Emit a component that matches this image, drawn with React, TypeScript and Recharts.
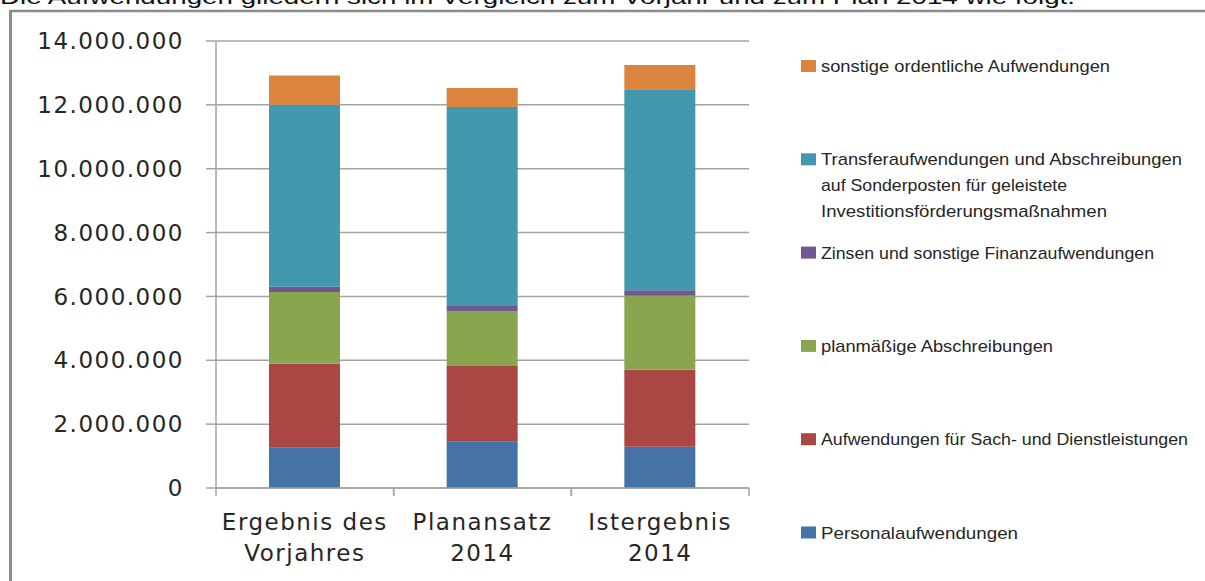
import React from "react";
import { BarChart, Bar, XAxis, YAxis, CartesianGrid, Legend } from "recharts";

// categories (line break marks the two-line axis label)
const categories = ["Ergebnis des\nVorjahres", "Planansatz\n2014", "Istergebnis\n2014"];

// series values in EUR, bottom to top
const personalaufwendungen = [1260000, 1450000, 1290000];
const sachUndDienst = [2640000, 2370000, 2410000];
const planAbschreibungen = [2240000, 1720000, 2320000];
const zinsen = [160000, 160000, 170000];
const transfer = [5700000, 6230000, 6300000];
const sonstige = [920000, 600000, 760000];

const yTicks = [0, 2000000, 4000000, 6000000, 8000000, 10000000, 12000000, 14000000];

const series = [
  { key: "personal", values: personalaufwendungen, color: "#4572A7", label: ["Personalaufwendungen"] },
  { key: "sach", values: sachUndDienst, color: "#AA4643", label: ["Aufwendungen für Sach- und Dienstleistungen"] },
  { key: "abschr", values: planAbschreibungen, color: "#89A54E", label: ["planmäßige Abschreibungen"] },
  { key: "zinsen", values: zinsen, color: "#71588F", label: ["Zinsen und sonstige Finanzaufwendungen"] },
  {
    key: "transfer",
    values: transfer,
    color: "#4198AF",
    label: [
      "Transferaufwendungen und Abschreibungen",
      "auf Sonderposten für geleistete",
      "Investitionsförderungsmaßnahmen",
    ],
  },
  { key: "sonstige", values: sonstige, color: "#DB843D", label: ["sonstige ordentliche Aufwendungen"] },
];

const data = categories.map((name, i) => {
  const row: Record<string, any> = { name };
  series.forEach((s) => {
    row[s.key] = s.values[i];
  });
  return row;
});

// rendered widths of the condensed legend lines
const legendLineWidths: Record<string, number> = {
  "sonstige ordentliche Aufwendungen": 289,
  "Transferaufwendungen und Abschreibungen": 361,
  "auf Sonderposten für geleistete": 246,
  "Investitionsförderungsmaßnahmen": 286,
  "Zinsen und sonstige Finanzaufwendungen": 333,
  "planmäßige Abschreibungen": 232,
  "Aufwendungen für Sach- und Dienstleistungen": 367,
  "Personalaufwendungen": 197,
};

const formatDE = (v: number) => String(v).replace(/\B(?=(\d{3})+(?!\d))/g, ".");

const axisFont = "'DejaVu Sans', Verdana, sans-serif";
const textColor = "#262626";
const gridColor = "#a3a3a3";

function CategoryTick(props: any) {
  const { x, y, payload, width, visibleTicksCount } = props;
  const half = payload.offset ? payload.offset : width / (visibleTicksCount || 3) / 2;
  const lines = String(payload.value).split("\n");
  return (
    <g>
      <line x1={x - half} x2={x - half} y1={y} y2={y + 8} stroke={gridColor} strokeWidth={1.5} />
      <line x1={x + half} x2={x + half} y1={y} y2={y + 8} stroke={gridColor} strokeWidth={1.5} />
      {lines.map((line, i) => (
        <text
          key={i}
          x={x}
          y={y + 42 + i * 31}
          textAnchor="middle"
          fontFamily={axisFont}
          fontSize={23}
          letterSpacing={1.5}
          fill={textColor}
        >
          {line}
        </text>
      ))}
    </g>
  );
}

function SideLegend() {
  const items = [...series].reverse();
  return (
    <svg width={410} height={581}>
      {items.map((s, i) => {
        const cy = 66 + i * 93.3;
        return (
          <g key={s.key}>
            <rect x={6} y={cy - 6} width={15} height={12} fill={s.color} />
            {s.label.map((line, j) => (
              <text
                key={j}
                x={26}
                y={cy + 6 + j * 26}
                fontFamily="'Liberation Sans', Arial, sans-serif"
                fontSize={17}
                fill={textColor}
                textLength={legendLineWidths[line]}
                lengthAdjust="spacingAndGlyphs"
              >
                {line}
              </text>
            ))}
          </g>
        );
      })}
    </svg>
  );
}

export default function App() {
  return (
    <div
      style={{
        position: "absolute",
        left: 0,
        top: 0,
        width: 1205,
        height: 581,
        overflow: "hidden",
        background: "#fff",
      }}
    >
      <svg width={1205} height={581} style={{ position: "absolute", left: 0, top: 0 }}>
        <text
          x={0}
          y={4}
          fontFamily="'Liberation Sans', Arial, sans-serif"
          fontSize={21}
          fill="#111"
          textLength={1075}
          lengthAdjust="spacingAndGlyphs"
        >
          Die Aufwendungen gliedern sich im Vergleich zum Vorjahr und zum Plan 2014 wie folgt.
        </text>
        <line x1={9} x2={1205} y1={11} y2={11} stroke="#8c8c8c" strokeWidth={2.5} />
        <line x1={10.5} x2={10.5} y1={10} y2={581} stroke="#8c8c8c" strokeWidth={3} />
      </svg>
      <div style={{ position: "absolute", left: 0, top: 0 }}>
        <BarChart
          width={1205}
          height={581}
          data={data}
          margin={{ top: 41, right: 456, bottom: 0, left: 0 }}
        >
          <CartesianGrid vertical={false} stroke={gridColor} strokeWidth={1.5} />
          <XAxis
            dataKey="name"
            axisLine={{ stroke: gridColor, strokeWidth: 1.5 }}
            tickLine={false}
            tickSize={0}
            tickMargin={0}
            height={93}
            interval={0}
            tick={<CategoryTick />}
          />
          <YAxis
            width={216}
            domain={[0, 14000000]}
            ticks={yTicks}
            interval={0}
            tickFormatter={formatDE}
            axisLine={{ stroke: gridColor, strokeWidth: 1.5 }}
            tickLine={{ stroke: gridColor, strokeWidth: 1.5 }}
            tickSize={10}
            tickMargin={22}
            tick={{ fontFamily: axisFont, fontSize: 23, fill: textColor, letterSpacing: 1.5 }}
          />
          <Legend
            layout="vertical"
            align="center"
            verticalAlign="middle"
            wrapperStyle={{ left: 795, top: 0, width: 410, height: 581 }}
            content={() => <SideLegend />}
          />
          {series.map((s) => (
            <Bar
              key={s.key}
              dataKey={s.key}
              name={s.label.join(" ")}
              stackId="a"
              fill={s.color}
              barSize={71}
              isAnimationActive={false}
            />
          ))}
        </BarChart>
      </div>
    </div>
  );
}
